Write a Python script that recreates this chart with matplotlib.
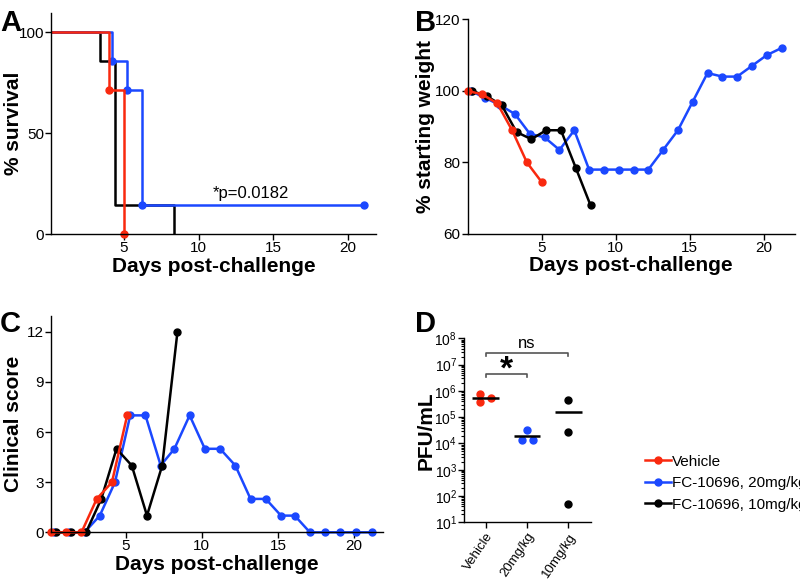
import numpy as np
import matplotlib
matplotlib.use('Agg')
import matplotlib.pyplot as plt
from matplotlib.lines import Line2D
from matplotlib.ticker import LogLocator

plt.rcParams['font.family'] = ['Liberation Sans', 'DejaVu Sans']
plt.rcParams['axes.linewidth'] = 1.0

RED = '#f9290f'
BLUE = '#1b48ff'
BLACK = '#000000'

# A - survival (Kaplan-Meier steps)
surv_red_t = [0, 4.0, 5.0]
surv_red = [100, 71.4, 0]
surv_blue_t = [0, 4.2, 5.2, 6.2, 21.1]
surv_blue = [100, 85.7, 71.4, 14.3, 14.3]
surv_black_t = [0, 3.4, 4.4, 8.35]
surv_black = [100, 85.7, 14.3, 0]

# B - weight
wt_red_x = [0, 1, 2, 3, 4, 5]
wt_red = [100, 99, 96.5, 89, 80, 74.5]
wt_black_x = [0.3, 1.3, 2.3, 3.3, 4.3, 5.3, 6.3, 7.3, 8.3]
wt_black = [100, 98.5, 96, 88.5, 86.5, 89, 89, 78.5, 68]
wt_blue_x = [0.2, 1.2, 2.2, 3.2, 4.2, 5.2, 6.2, 7.2, 8.2, 9.2, 10.2, 11.2,
             12.2, 13.2, 14.2, 15.2, 16.2, 17.2, 18.2, 19.2, 20.2, 21.2]
wt_blue = [100, 98, 96, 93.5, 88, 87, 83.5, 89, 78, 78, 78, 78,
           78, 83.5, 89, 97, 105, 104, 104, 107, 110, 112]

# C - clinical score
cs_red_x = [0.1, 1.1, 2.1, 3.1, 4.1, 5.1]
cs_red = [0, 0, 0, 2, 3, 7]
cs_black_x = [0.4, 1.4, 2.4, 3.4, 4.4, 5.4, 6.4, 7.4, 8.4]
cs_black = [0, 0, 0, 2, 5, 4, 1, 4, 12]
cs_blue_x = [0.3, 1.3, 2.3, 3.3, 4.3, 5.3, 6.3, 7.3, 8.2, 9.2, 10.2, 11.2,
             12.2, 13.2, 14.2, 15.2, 16.1, 17.1, 18.1, 19.1, 20.1, 21.2]
cs_blue = [0, 0, 0, 1, 3, 7, 7, 4, 5, 7, 5, 5,
           4, 2, 2, 1, 1, 0, 0, 0, 0, 0]

# D - viral titres
groups = ['Vehicle', '20mg/kg', '10mg/kg']
pfu_vehicle = [7.6e5, 3.8e5, 5.5e5]
pfu_20 = [3.3e4, 1.35e4, 1.35e4]
pfu_10 = [4.5e5, 2.8e4, 50]
legend_labels = ['Vehicle', 'FC-10696, 20mg/kg', 'FC-10696, 10mg/kg']

fig = plt.figure(figsize=(8, 5.8), dpi=100)

def style(ax):
    for s in ['top', 'right']:
        ax.spines[s].set_visible(False)
    ax.tick_params(direction='out', length=4, width=1, labelsize=11, pad=1)

lw = 1.8
ms = 5
lab = dict(fontsize=15, fontweight='bold')

# A
axA = fig.add_axes([0.0638, 0.596, 0.4062, 0.382])
axA.step(surv_black_t, surv_black, where='post', color=BLACK, lw=lw)
axA.step(surv_blue_t, surv_blue, where='post', color=BLUE, lw=lw)
axA.plot(surv_blue_t[1:], surv_blue[1:], 'o', color=BLUE, ms=ms)
axA.step(surv_red_t, surv_red, where='post', color=RED, lw=lw)
axA.plot(surv_red_t[1:], surv_red[1:], 'o', color=RED, ms=ms, clip_on=False)
axA.set_xlim(0.1, 21.9)
axA.set_ylim(0, 109.7)
axA.set_xticks([5, 10, 15, 20])
axA.set_yticks([0, 50, 100])
axA.text(13.5, 20, '*p=0.0182', fontsize=12, ha='center', va='center')
axA.set_xlabel('Days post-challenge', labelpad=1, **lab)
axA.set_ylabel('% survival', **lab)
axA.yaxis.set_label_coords(-0.085, 0.5)
style(axA)

# B
axB = fig.add_axes([0.5846, 0.5966, 0.409, 0.370])
axB.plot(wt_blue_x, wt_blue, 'o-', color=BLUE, lw=lw, ms=ms)
axB.plot(wt_black_x, wt_black, 'o-', color=BLACK, lw=lw, ms=ms)
axB.plot(wt_red_x, wt_red, 'o-', color=RED, lw=lw, ms=ms, clip_on=False)
axB.set_xlim(0, 22.1)
axB.set_ylim(60, 120)
axB.set_xticks([5, 10, 15, 20])
axB.set_yticks([60, 80, 100, 120])
axB.set_xlabel('Days post-challenge', labelpad=1, **lab)
axB.set_ylabel('% starting weight', **lab)
axB.yaxis.set_label_coords(-0.1, 0.5)
style(axB)

# C
axC = fig.add_axes([0.0638, 0.0822, 0.415, 0.373])
axC.plot(cs_blue_x, cs_blue, 'o-', color=BLUE, lw=lw, ms=ms, clip_on=False)
axC.plot(cs_black_x, cs_black, 'o-', color=BLACK, lw=lw, ms=ms, clip_on=False)
axC.plot(cs_red_x, cs_red, 'o-', color=RED, lw=lw, ms=ms, clip_on=False)
axC.set_xlim(0.1, 21.9)
axC.set_ylim(0, 12.95)
axC.set_xticks([5, 10, 15, 20])
axC.set_yticks([0, 3, 6, 9, 12])
axC.set_xlabel('Days post-challenge', labelpad=1, **lab)
axC.set_ylabel('Clinical score', **lab)
axC.yaxis.set_label_coords(-0.083, 0.5)
style(axC)

# D
axD = fig.add_axes([0.580, 0.0995, 0.159, 0.317])
offsets = [[-0.14, -0.14, 0.13], [0.0, -0.13, 0.145], [0.0, 0.0, 0.0]]
for i, (vals, col) in enumerate(zip([pfu_vehicle, pfu_20, pfu_10], [RED, BLUE, BLACK])):
    axD.plot(np.array(offsets[i]) + i, vals, 'o', color=col, ms=ms)
    axD.hlines(np.mean(vals), i - 0.32, i + 0.32, color='black', lw=1.8)
axD.set_yscale('log')
axD.set_ylim(10, 1e8)
axD.set_xlim(-0.52, 2.55)
axD.yaxis.set_major_locator(LogLocator(base=10, numticks=10))
axD.yaxis.set_minor_locator(LogLocator(base=10, subs=np.arange(2, 10), numticks=20))
axD.set_xticks([0, 1, 2])
axD.set_ylabel('PFU/mL', **lab)
axD.yaxis.set_label_coords(-0.225, 0.5)
style(axD)
axD.tick_params(axis='y', labelsize=10)
axD.set_xticklabels(groups, rotation=56, ha='right', rotation_mode='anchor', fontsize=9.5)
axD.tick_params(axis='y', which='minor', length=2.5, width=0.8)
axD.tick_params(axis='x', pad=2)

# significance brackets
gray = '#555555'
axD.plot([0, 0, 1, 1], [3.3e6, 4.3e6, 4.3e6, 3.3e6], color=gray, lw=1.2)
axD.text(0.5, 6.5e6, '*', fontsize=24, fontweight='bold', ha='center', va='center')
axD.plot([0, 0, 2, 2], [2.1e7, 2.7e7, 2.7e7, 2.1e7], color=gray, lw=1.2)
axD.text(1.0, 6.2e7, 'ns', fontsize=12, ha='center', va='center')

# legend
handles = [Line2D([], [], color=c, marker='o', lw=lw, ms=ms) for c in [RED, BLUE, BLACK]]
fig.legend(handles, legend_labels, loc='center left', bbox_to_anchor=(0.806, 0.167),
           frameon=False, fontsize=11, handlelength=1.7, handletextpad=0.1,
           labelspacing=0.5, borderaxespad=0, borderpad=0)

# panel letters
for lbl, x, y in [('A', 0.0, 0.985), ('B', 0.519, 0.985), ('C', 0.0, 0.465), ('D', 0.519, 0.465)]:
    fig.text(x, y, lbl, fontsize=21, fontweight='bold', va='top', ha='left')

plt.savefig('out.png', dpi=100)
